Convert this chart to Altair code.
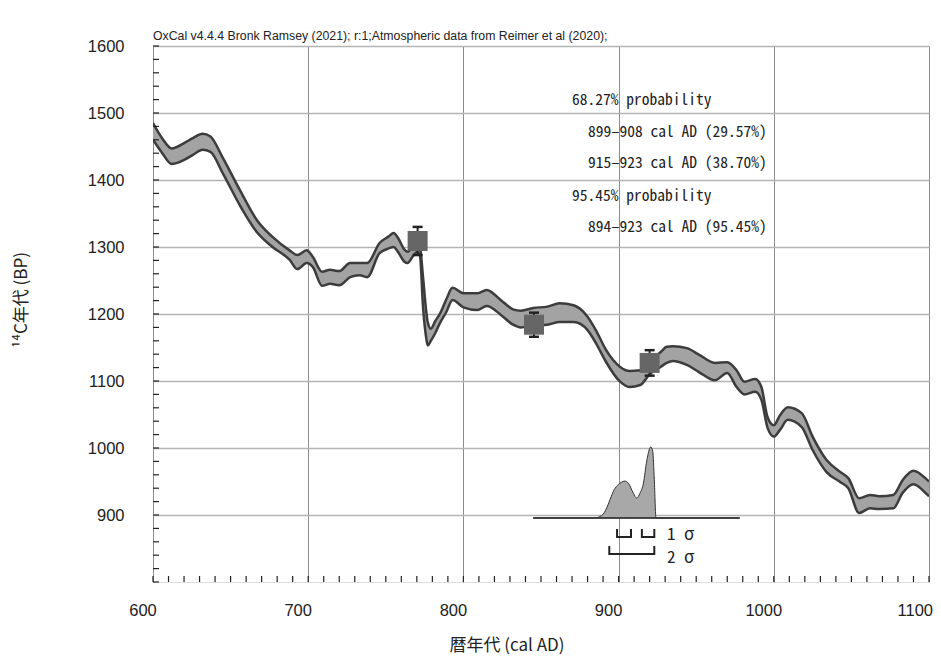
import altair as alt
import pandas as pd

# ---- calibration curve (IntCal20 band, upper / lower edges, BP) ----
years = [600, 606, 612, 620, 626, 632, 637, 645, 656, 667, 677, 688, 693, 699, 703, 709, 714,
         720, 727, 733, 738, 746, 752, 755, 758, 762, 764, 768, 770, 772, 774, 776, 777, 779,
         782, 785, 789, 793, 800, 809, 815, 824, 832, 837, 845, 854, 862, 871, 880, 886, 892,
         901, 907, 914, 920, 927, 931, 935, 944, 952, 962, 970, 976, 981, 988, 992, 996, 1000,
         1004, 1009, 1018, 1025, 1034, 1043, 1048, 1055, 1062, 1068, 1077, 1083, 1090, 1099, 1100]
upper = [1485, 1462, 1447, 1455, 1463, 1469, 1465, 1433, 1385, 1340, 1315, 1295, 1288, 1295, 1285, 1263, 1266,
         1264, 1276, 1276, 1276, 1306, 1316, 1321, 1313, 1296, 1293, 1302, 1306, 1300, 1255, 1205, 1188, 1178,
         1190, 1201, 1222, 1239, 1231, 1231, 1236, 1221, 1207, 1205, 1209, 1211, 1216, 1213, 1196, 1173, 1146,
         1121, 1115, 1116, 1130, 1143, 1151, 1152, 1149, 1139, 1127, 1128, 1116, 1099, 1103, 1091, 1046, 1034,
         1049, 1061, 1052, 1017, 982, 964, 955, 925, 930, 928, 930, 952, 966, 952, 950]
lower = [1460, 1440, 1424, 1430, 1438, 1445, 1442, 1410, 1362, 1322, 1300, 1281, 1267, 1276, 1270, 1242, 1245,
         1243, 1255, 1258, 1255, 1291, 1298, 1300, 1292, 1278, 1276, 1288, 1292, 1287, 1210, 1165, 1153, 1160,
         1172, 1187, 1203, 1221, 1210, 1206, 1212, 1199, 1184, 1180, 1183, 1184, 1188, 1188, 1176, 1154, 1128,
         1099, 1091, 1094, 1110, 1121, 1127, 1130, 1124, 1113, 1101, 1112, 1091, 1080, 1084, 1072, 1030, 1017,
         1027, 1042, 1031, 997, 964, 949, 940, 903, 910, 909, 910, 933, 946, 930, 928]

# ---- measured samples (wiggle-match) ----
samp_year = [770.5, 845.5, 920.0]
samp_bp = [1309, 1184, 1127]
samp_err = [21, 18, 19]

# ---- calibrated probability distribution (relative height) ----
prob_year = [845, 884, 889, 892.3, 894.5, 897.2, 899.8, 904.1, 906.3, 909.5, 911.7, 913.8,
             916, 918.1, 920.7, 922, 923, 924.1, 978]
prob_h = [0, 0, 0.033, 0.14, 0.26, 0.40, 0.47, 0.52, 0.49, 0.35, 0.28, 0.35,
          0.49, 0.80, 1.0, 0.94, 0.54, 0, 0]
prob_base = 895.5
prob_span = 106

# ---- ranges ----
sig1_start = [899, 915]
sig1_end = [908, 923]
sig2_start = [894]
sig2_end = [923]

text_lines = ["68.27% probability", "899–908 cal AD (29.57%)", "915–923 cal AD (38.70%)",
              "95.45% probability", "894–923 cal AD (95.45%)"]
text_x = [419, 435, 435, 419, 435]
text_row = [54, 86, 117, 150, 181]

x_ticks_major = [600, 700, 800, 900, 1000, 1100]
x_labels = ["600", "700", "800", "900", "1000"]
y_ticks_major = [900, 1000, 1100, 1200, 1300, 1400, 1500, 1600]
x_minor = list(range(600, 1101, 10))
y_minor = list(range(800, 1601, 20))

W, H = 776, 536
JP = "Noto Sans Mono CJK JP, Noto Sans CJK JP, sans-serif"
JPP = "Noto Sans CJK JP, sans-serif"

xs = alt.Scale(domain=[600, 1100], nice=False, zero=False)
ys = alt.Scale(domain=[800, 1600], nice=False, zero=False)

xaxis = alt.Axis(values=x_ticks_major, grid=True, gridColor="#8c8c8c", gridWidth=1,
                 ticks=False, domain=False, labels=False, title=None)
yaxis = alt.Axis(values=y_ticks_major, grid=True, gridColor="#b4b4b4", gridWidth=1.5,
                 ticks=False, domain=False, labelFont="Liberation Sans", labelFontSize=16.5,
                 labelColor="#222", labelPadding=29, title=None, labelFlush=False, format="d")


def X(f):
    return alt.X(f, scale=xs, axis=xaxis)


def Y(f):
    return alt.Y(f, scale=ys, axis=yaxis)


curve = pd.DataFrame({"year": years, "upper": upper, "lower": lower})
edges = pd.concat([
    pd.DataFrame({"year": years, "bp": upper, "edge": "upper"}),
    pd.DataFrame({"year": years, "bp": lower, "edge": "lower"}),
])
samples = pd.DataFrame({"year": samp_year, "bp": samp_bp,
                        "lo": [b - e for b, e in zip(samp_bp, samp_err)],
                        "hi": [b + e for b, e in zip(samp_bp, samp_err)]})
prob = pd.DataFrame({"year": prob_year,
                     "top": [prob_base + h * prob_span for h in prob_h],
                     "base": [prob_base] * len(prob_h)})
prob_line = pd.DataFrame({"year": [prob_year[0]], "year2": [prob_year[-1]], "bp": [prob_base]})
s1 = pd.DataFrame({"start": sig1_start, "end": sig1_end})
s2 = pd.DataFrame({"start": sig2_start, "end": sig2_end})
xl = pd.DataFrame({"year": x_ticks_major[:-1], "lab": x_labels})
xl_last = pd.DataFrame({"year": [x_ticks_major[-1]], "lab": [str(x_ticks_major[-1])]})

dist = alt.Chart(prob).mark_area(color="#a8a8a8", stroke="#333", strokeWidth=1,
                                 interpolate="monotone").encode(
    x=X("year:Q"), y=Y("top:Q"), y2="base:Q")
dist_base = alt.Chart(prob_line).mark_rule(color="#333", strokeWidth=1.5).encode(
    x=X("year:Q"), x2="year2:Q", y=Y("bp:Q"))

band = alt.Chart(curve).mark_area(color="#a3a3a3", interpolate="monotone", clip=True).encode(
    x=X("year:Q"), y=Y("upper:Q"), y2="lower:Q")
band_lines = alt.Chart(edges).mark_line(color="#3c3c3c", strokeWidth=2.5,
                                        interpolate="monotone", clip=True).encode(
    x=X("year:Q"), y=Y("bp:Q"), detail="edge:N")

err = alt.Chart(samples).mark_rule(color="#222", strokeWidth=2).encode(
    x=X("year:Q"), y=Y("lo:Q"), y2="hi:Q")
cap_hi = alt.Chart(samples).mark_rule(color="#222", strokeWidth=2.5, xOffset=-5, x2Offset=5).encode(
    x=X("year:Q"), x2="year:Q", y=Y("hi:Q"))
cap_lo = alt.Chart(samples).mark_rule(color="#222", strokeWidth=2.5, xOffset=-5, x2Offset=5).encode(
    x=X("year:Q"), x2="year:Q", y=Y("lo:Q"))
squares = alt.Chart(samples).mark_square(size=400, color="#666666", opacity=1).encode(
    x=X("year:Q"), y=Y("bp:Q"))

# sigma brackets
b1_line = alt.Chart(s1).mark_rule(color="#222", strokeWidth=2).encode(
    x=X("start:Q"), x2="end:Q", y=alt.value(491))
b1_l = alt.Chart(s1).mark_rule(color="#222", strokeWidth=2).encode(
    x=X("start:Q"), y=alt.value(483), y2=alt.value(492))
b1_r = alt.Chart(s1).mark_rule(color="#222", strokeWidth=2).encode(
    x=X("end:Q"), y=alt.value(483), y2=alt.value(492))
b2_line = alt.Chart(s2).mark_rule(color="#222", strokeWidth=2).encode(
    x=X("start:Q"), x2="end:Q", y=alt.value(508))
b2_l = alt.Chart(s2).mark_rule(color="#222", strokeWidth=2).encode(
    x=X("start:Q"), y=alt.value(500), y2=alt.value(509))
b2_r = alt.Chart(s2).mark_rule(color="#222", strokeWidth=2).encode(
    x=X("end:Q"), y=alt.value(500), y2=alt.value(509))

# inner ticks
xt = alt.Chart(pd.DataFrame({"year": x_minor})).mark_rule(color="#222", strokeWidth=1.2).encode(
    x=X("year:Q"), y=alt.value(H), y2=alt.value(H - 6))
yt = alt.Chart(pd.DataFrame({"bp": y_minor})).mark_rule(color="#222", strokeWidth=1.2).encode(
    y=Y("bp:Q"), x=alt.value(0), x2=alt.value(6))

# x tick labels (set slightly left of their ticks, as in the original)
xlab = alt.Chart(xl).mark_text(font="Liberation Sans", fontSize=16.5, color="#222",
                               align="center", baseline="middle", dx=-10).encode(
    x=X("year:Q"), y=alt.value(H + 29), text="lab:N")
xlab_last = alt.Chart(xl_last).mark_text(font="Liberation Sans", fontSize=16.5, color="#222",
                                         align="right", baseline="middle", dx=4).encode(
    x=X("year:Q"), y=alt.value(H + 29), text="lab:N")

one = pd.DataFrame({"k": [0]})


def label(text, x, y, font, size, angle=0, align="left", baseline="middle"):
    return alt.Chart(one).mark_text(
        text=text, font=font, fontSize=size, color="#222", align=align,
        baseline=baseline, angle=angle).encode(x=alt.value(x), y=alt.value(y))


texts = [label(t, x, y, JP, 15.5) for t, x, y in zip(text_lines, text_x, text_row)]
texts.append(label("1 σ", 514, 489, JP, 17))
texts.append(label("2 σ", 514, 512, JP, 17))

note = alt.Chart(one).mark_text(
    text="OxCal v4.4.4 Bronk Ramsey (2021); r:1;Atmospheric data from Reimer et al (2020);",
    font="Liberation Sans", fontSize=12.3, color="#222", align="left", baseline="alphabetic").encode(
    x=alt.value(0), y=alt.value(-6))

ytitle = label("¹⁴C年代 (BP)", -131, 254, JPP, 17, angle=270, align="center")
xtitle = label("暦年代 (cal AD)", 354, 600, JPP, 17, align="center")

chart = alt.layer(
    dist, dist_base, band, band_lines, err, cap_hi, cap_lo, squares,
    b1_line, b1_l, b1_r, b2_line, b2_l, b2_r, xt, yt, xlab, xlab_last,
    note, ytitle, xtitle, *texts
).properties(
    width=W, height=H,
    padding={"left": 145, "top": 38, "right": 4, "bottom": 73},
    autosize=alt.AutoSizeParams(type="none"),
).configure_view(stroke="#222", strokeWidth=2.5).configure(background="white")

chart.save("out.html", embed_options={"renderer": "svg", "actions": False})
